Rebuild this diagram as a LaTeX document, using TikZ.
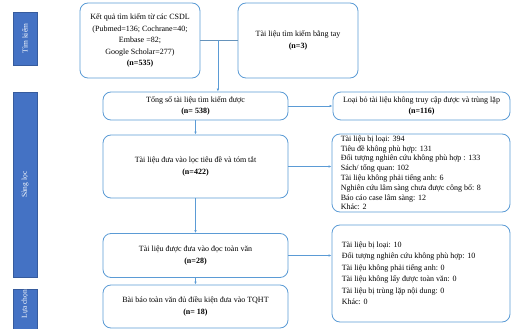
\documentclass[tikz,border=0pt]{standalone}
\usepackage{fontspec}
\setmainfont{Liberation Serif}
\usetikzlibrary{arrows.meta,calc}
\definecolor{bandblue}{HTML}{4472C4}
\definecolor{boxblue}{HTML}{5B9BD5}
\tikzset{
  box/.style={draw=boxblue,line width=0.8pt,rounded corners=8pt,align=center,
    font=\fontsize{8}{11.5}\selectfont,inner sep=2pt},
  band/.style={fill=bandblue,draw=bandblue!80!black,line width=0.3pt,text=white,
    font=\fontsize{7.5}{9}\selectfont},
  list/.style={align=left,inner sep=0pt,anchor=north west},
  arr/.style={draw=boxblue,line width=0.6pt,-{Latex[length=3pt,width=2.5pt]}},
  lnk/.style={draw=boxblue!70!gray,line width=0.6pt}
}
\begin{document}
\begin{tikzpicture}[x=1pt,y=-1pt]
        \useasboundingbox (0,0) rectangle (512,329);
        % 段階
        \node[band,minimum width=24pt,minimum height=53pt] (tk) at (25,38.5) {};
        \node[rotate=90,text=white,font=\fontsize{7.5}{9}\selectfont] at (tk) {Tìm kiếm};
        \node[band,minimum width=24pt,minimum height=185pt] (sl) at (25,184.5) {};
        \node[rotate=90,text=white,font=\fontsize{7.5}{9}\selectfont] at (sl) {Sàng lọc};
        \node[band,minimum width=24pt,minimum height=40pt] (lc) at (25,309) {};
        \node[rotate=90,text=white,font=\fontsize{7.5}{9}\selectfont] at ([yshift=5pt]lc.center) {Lựa chọn};
        % 左の列
        \node[box,minimum width=120pt,minimum height=75pt] (csdl) at (140,40.5)
          {Kết quả tìm kiếm từ các CSDL\\(Pubmed=136; Cochrane=40;\\Embase =82;\\Google Scholar=277)\\\textbf{(n=535)}};
        \node[box,minimum width=120pt,minimum height=75pt] (tay) at (298,40.5)
          {Tài liệu tìm kiếm bằng tay\\\textbf{(n=3)}};
        \node[box,minimum width=185pt,minimum height=28pt] (tong) at (195.5,106)
          {Tổng số tài liệu tìm kiếm được\\\textbf{(n= 538)}};
        \node[box,minimum width=185pt,minimum height=63pt] (loc) at (195.5,166.5)
          {Tài liệu đưa vào lọc tiêu đề và tóm tắt\\\textbf{(n=422)}};
        \node[box,minimum width=185pt,minimum height=44pt] (doc) at (195.5,255.5)
          {Tài liệu được đưa vào đọc toàn văn\\\textbf{(n=28)}};
        \node[box,minimum width=185pt,minimum height=43pt] (tqht) at (195.5,306.5)
          {Bài báo toàn văn đủ điều kiện đưa vào TQHT\\\textbf{(n= 18)}};
        % 右の列
        \node[box,minimum width=177pt,minimum height=28pt] (loaibo) at (421.5,106)
          {Loại bỏ tài liệu không truy cập được và trùng lặp\\\textbf{(n=116)}};
        \node[box,minimum width=178pt,minimum height=78pt] (loai1) at (421,173) {};
        \node[list,font=\fontsize{8}{9.8}\selectfont] at ([xshift=9pt,yshift=-2pt]loai1.north west)
          {Tài liệu bị loại: 394\\Tiêu đề không phù hợp: 131\\Đối tượng nghiên cứu không phù hợp : 133\\Sách/ tổng quan: 102\\Tài liệu không phải tiếng anh: 6\\Nghiên cứu lâm sàng chưa được công bố: 8\\Báo cáo case lâm sàng: 12\\Khác: 2};
        \node[box,minimum width=178pt,minimum height=97pt] (loai2) at (421,273.5) {};
        \node[list,font=\fontsize{8}{11.5}\selectfont] at ([xshift=10pt,yshift=-17pt]loai2.north west)
          {Tài liệu bị loại: 10\\Đối tượng nghiên cứu không phù hợp: 10\\Tài liệu không phải tiếng anh: 0\\Tài liệu không lấy được toàn văn: 0\\Tài liệu bị trùng lặp nội dung: 0\\Khác: 0};
        % 接続
        \draw[lnk] (csdl.east) -- (tay.west);
        \coordinate (hop) at ($(csdl.east)!0.47!(tay.west)$);
        \draw[arr] (hop) -- (hop |- tong.north);
        \draw[arr] (tong.east) -- (loaibo.west);
        \draw[arr] (tong.south) -- (loc.north);
        \draw[arr] (loc.east) -- (loc.east -| loai1.west);
        \draw[arr] (loc.south) -- (doc.north);
        \draw[arr] (doc.east) -- (doc.east -| loai2.west);
        \draw[arr] (doc.south) -- (tqht.north);
    \end{tikzpicture}
\end{document}
